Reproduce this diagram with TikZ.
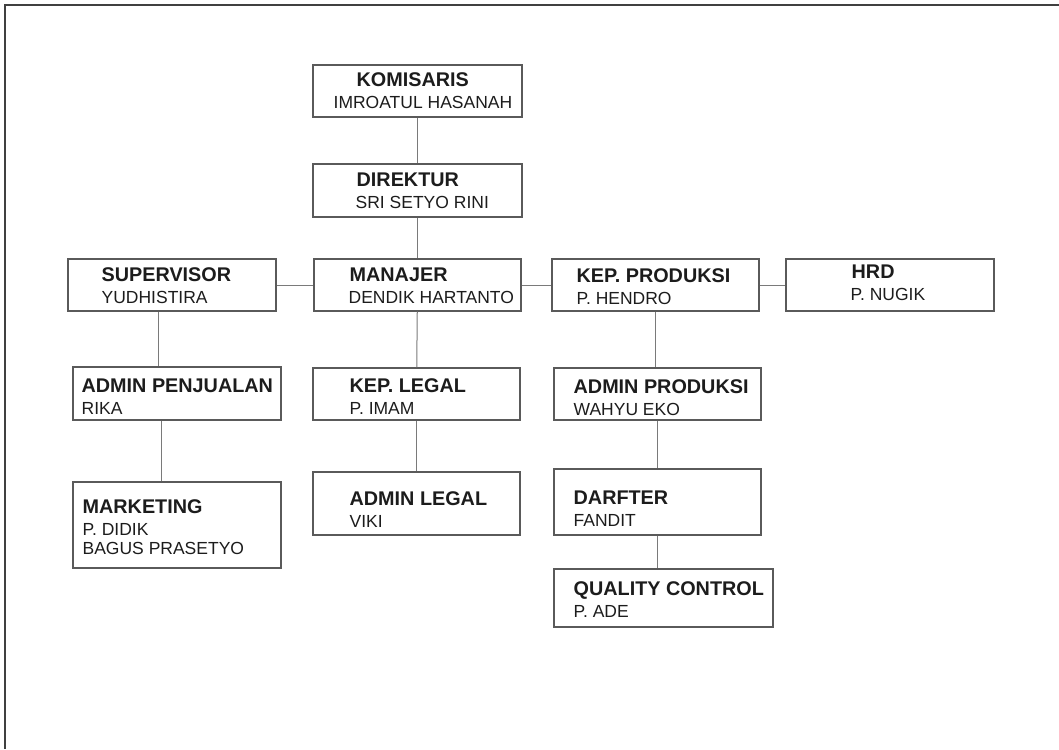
\documentclass[tikz,border=0pt]{standalone}
\usepackage{fontspec}
\setmainfont{Liberation Sans}
\usepackage{tikz}
\definecolor{tinta}{HTML}{1C1C1C}
\definecolor{garis}{HTML}{5A5A5A}
\definecolor{hubung}{HTML}{7A7A7A}
\tikzset{every picture/.style={x=1pt, y=-1pt}}
\tikzset{kotak/.style={draw=garis, line width=1.1pt, inner sep=0pt}}
\tikzset{judul/.style={anchor=base west, inner sep=0pt, text=tinta, font=\fontsize{19.8}{22}\selectfont\bfseries}}
\tikzset{nama/.style={anchor=base west, inner sep=0pt, text=tinta, font=\fontsize{17.5}{19}\selectfont}}
\tikzset{hubung/.style={draw=hubung, line width=1pt}}

\begin{document}
\begin{tikzpicture}
\useasboundingbox (0,0) rectangle (1059,749);
\draw[draw=black!75, line width=1.5pt] (1059,5) -- (5,5) -- (5,749);
\foreach \n/\x/\y/\w/\h/\dx/\dy/\dxb/\jab/\org in {
  kom/313/65/209/52/44/22/21/KOMISARIS/IMROATUL HASANAH,
  dir/313/164/209/53/44/23/43/DIREKTUR/SRI SETYO RINI,
  man/314/259/207/52/36/23/35/MANAJER/DENDIK HARTANTO,
  sup/68/259/208/52/34/23/34/SUPERVISOR/YUDHISTIRA,
  kpp/552/259/207/52/25/24/25/KEP. PRODUKSI/P. HENDRO,
  hrd/786/259/208/52/66/20/65/HRD/P. NUGIK,
  adp/73/367/208/53/9/26/9/ADMIN PENJUALAN/RIKA,
  mkt/73/482/208/86/10/32/10/MARKETING/\begin{tabular}[t]{@{}l@{}}P. DIDIK\\BAGUS PRASETYO\end{tabular},
  kpl/313/368/207/52/37/25/37/KEP. LEGAL/P. IMAM,
  adl/313/472/207/63/37/34/37/ADMIN LEGAL/VIKI,
  adpr/554/368/207/52/20/26/20/ADMIN PRODUKSI/WAHYU EKO,
  dar/554/469/207/66/20/36/20/DARFTER/FANDIT,
  qc/554/569/219/58/20/27/20/QUALITY CONTROL/P. ADE} {
\node[kotak, minimum width=\w, minimum height=\h] (\n) at (\x+\w/2, \y+\h/2) {};
\node[judul] (\n-j) at ([shift={(\dx,\dy)}]\n.north west) {\jab};
\node[nama] (\n-o) at ([shift={(\dxb,\dy+22)}]\n.north west) {\org};
}
% garis hubung
\draw[hubung] (kom) -- (dir);
\draw[hubung] (dir) -- (man);
\draw[hubung] (sup) -- (man);
\draw[hubung] (man) -- (kpp);
\draw[hubung] (kpp) -- (hrd);
\draw[hubung] ([xshift=-14]sup.south) -- ([xshift=-14]sup.south |- adp.north);
\draw[hubung] ([xshift=-16]adp.south) -- ([xshift=-16]mkt.north);
\draw[hubung] (man) -- (kpl);
\draw[hubung] (kpl) -- (adl);
\draw[hubung] (kpp.south) -- (kpp.south |- adpr.north);
\draw[hubung] (adpr) -- (dar);
\draw[hubung] (dar.south) -- (dar.south |- qc.north);
\end{tikzpicture}
\end{document}
